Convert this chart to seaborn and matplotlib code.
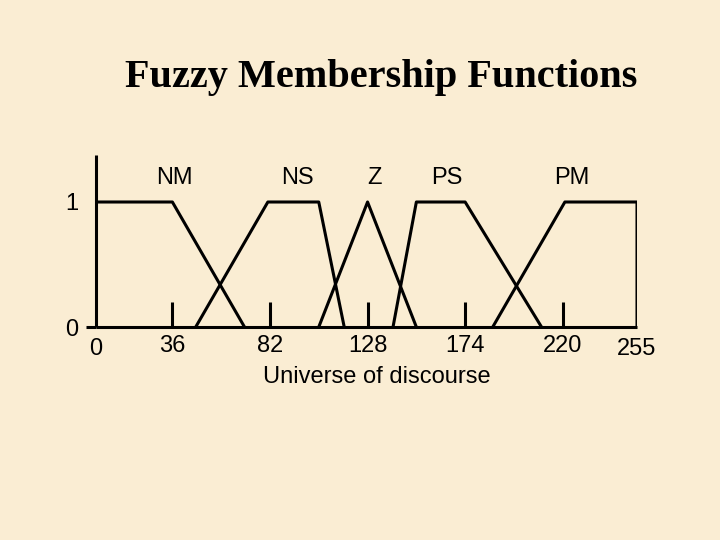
import matplotlib
matplotlib.use("Agg")
import matplotlib.pyplot as plt
import seaborn as sns
import pandas as pd

# membership functions: breakpoints on the universe of discourse (0..255)
names = ["NM", "NS", "Z", "PS", "PM"]
nm_x = [0, 36, 70]
nm_y = [1, 1, 0]
ns_x = [47, 81, 105, 117]
ns_y = [0, 1, 1, 0]
z_x = [105, 128, 151]
z_y = [0, 1, 0]
ps_x = [140, 151, 174, 210]
ps_y = [0, 1, 1, 0]
pm_x = [187, 221, 255, 255]
pm_y = [0, 1, 1, 0]

tick_values = [36, 82, 128, 174, 220]
end_values = [0, 255]

frames = []
for name, xs, ys in zip(names, [nm_x, ns_x, z_x, ps_x, pm_x], [nm_y, ns_y, z_y, ps_y, pm_y]):
    frames.append(pd.DataFrame({"x": xs, "mu": ys, "set": name}))
df = pd.concat(frames, ignore_index=True)

sns.set_style("white")
plt.rcParams["font.family"] = ["Liberation Sans", "DejaVu Sans"]
plt.rcParams["text.color"] = "black"
plt.rcParams["axes.labelcolor"] = "black"
plt.rcParams["xtick.color"] = "black"
plt.rcParams["ytick.color"] = "black"

bg = "#FAEDD3"
fig = plt.figure(figsize=(7.2, 5.4), dpi=100, facecolor=bg)
ax = fig.add_axes([96 / 720, 1 - 327 / 540, 541 / 720, 172 / 540])
ax.set_facecolor("none")

for name in names:
    sub = df[df["set"] == name]
    sns.lineplot(data=sub, x="x", y="mu", sort=False, estimator=None,
                 color="black", lw=2.2, ax=ax)

ax.set_xlim(0, 255)
ax.set_ylim(0, 1.376)
for s in ["top", "right"]:
    ax.spines[s].set_visible(False)
for s in ["left", "bottom"]:
    ax.spines[s].set_color("black")
    ax.spines[s].set_linewidth(2.2)
    ax.spines[s].set_capstyle("butt")

# x ticks: inner tick marks with labels, plus bare labels at the ends
ax.set_xticks(tick_values)
ax.set_xticklabels([str(v) for v in tick_values])
ax.set_xticks(end_values, minor=True)
ax.set_xticklabels([str(v) for v in end_values], minor=True)
ax.tick_params(axis="x", which="major", bottom=True, direction="in", length=18,
               width=2.2, pad=6, labelsize=17, color="black", labelcolor="black")
ax.tick_params(axis="x", which="minor", bottom=True, length=0, pad=8,
               labelsize=17, labelcolor="black")

ax.set_yticks([1])
ax.set_yticklabels(["1"])
ax.set_yticks([0], minor=True)
ax.set_yticklabels(["0"], minor=True)
ax.tick_params(axis="y", which="major", left=True, length=0, pad=13,
               labelsize=17, labelcolor="black")
ax.tick_params(axis="y", which="minor", left=True, length=7, width=2.2,
               pad=6, labelsize=17, color="black", labelcolor="black")
for lbl in ax.get_yticklabels():
    lbl.set_y(0.96)

ax.set_xlabel("Universe of discourse", fontsize=17, color="black")
ax.xaxis.set_label_coords((377 - 96) / 541, -50 / 172)
ax.xaxis.label.set_va("center")
ax.set_ylabel("")

# set names above each function
label_x = [37, 95, 131.5, 165.5, 224.5]
for name, lx in zip(names, label_x):
    ax.text(lx, 1.19, name, ha="center", va="center", fontsize=17, color="black")

fig.text(381 / 720, 1 - 78 / 540, "Fuzzy Membership Functions",
         ha="center", va="center", fontsize=29, fontweight="bold", color="black",
         family=["Liberation Serif", "DejaVu Serif"])

fig.savefig("out.png", dpi=100, facecolor=bg)
